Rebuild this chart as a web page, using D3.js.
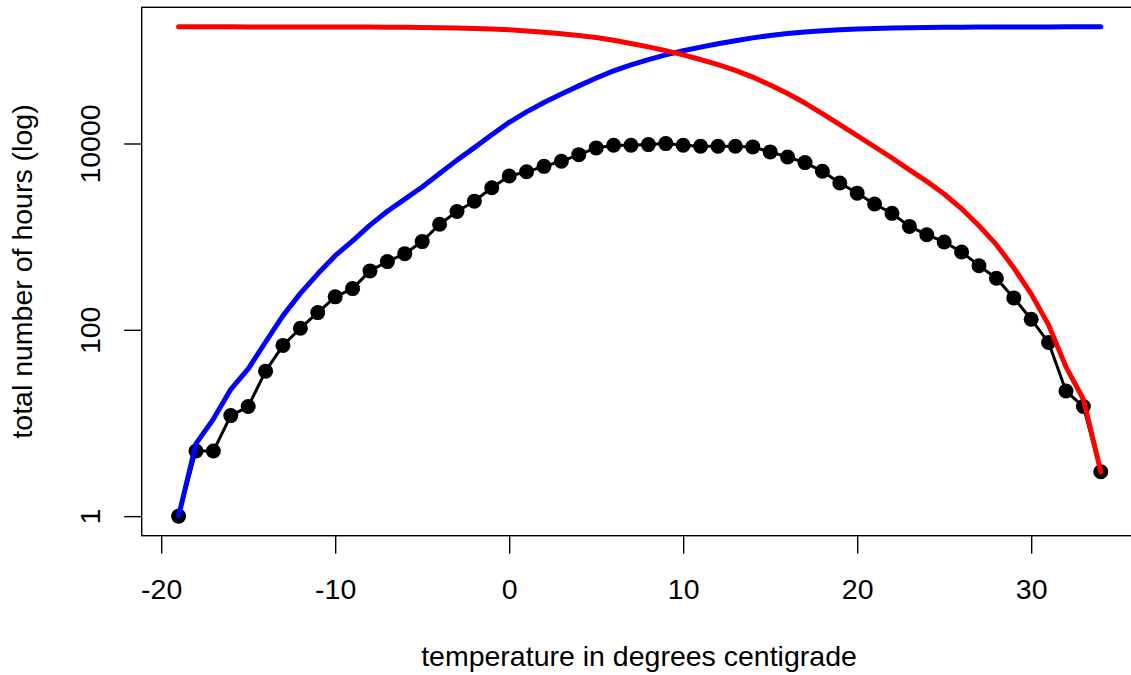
<!DOCTYPE html>
<html>
<head>
<meta charset="utf-8">
<script src="https://cdn.jsdelivr.net/npm/d3@7"></script>
<style>
  body { margin: 0; background: #fff; }
  svg text { font-family: "Liberation Sans", Arial, Helvetica, sans-serif; fill: #000; }
</style>
</head>
<body>
<svg width="1131" height="675"></svg>
<script>
// temperatures (degrees C), one point per degree
const temps = [-19,-18,-17,-16,-15,-14,-13,-12,-11,-10,-9,-8,-7,-6,-5,-4,-3,-2,-1,0,
  1,2,3,4,5,6,7,8,9,10,11,12,13,14,15,16,17,18,19,20,
  21,22,23,24,25,26,27,28,29,30,31,32,33,34];

// hours at each temperature (black dots)
const hours = [1,5,5,12,15,36,68,104,153,226,277,429,540,657,885,1357,1862,2404,3352,4485,
  4966,5685,6440,7590,8970,9570,9570,9730,9970,9570,9330,9330,9330,9190,8120,7170,6240,5030,3770,2930,
  2240,1780,1288,1050,877,684,488,358,220,130,73,22,15,3];

// hours at or below each temperature (blue)
const hoursBelow = [1,6,11,23,38,74,142,246,399,625,902,1331,1871,2528,3413,4770,6632,9036,12388,16873,
  21839,27524,33964,41554,50524,60094,69664,79394,89364,98934,108264,117594,126924,136114,144234,151404,157644,162674,166444,169374,
  171614,173394,174682,175732,176609,177293,177781,178139,178359,178489,178562,178584,178599,178602];

// hours at or above each temperature (red)
const hoursAbove = [178602,178601,178596,178591,178579,178564,178528,178460,178356,178203,177977,177700,177271,176731,176074,175189,173832,171970,169566,166214,
  161729,156763,151078,144638,137048,128078,118508,108938,99208,89238,79668,70338,61008,51678,42488,34368,27198,20958,15928,12158,
  9228,6988,5208,3920,2870,1993,1309,821,463,243,113,40,18,3];

const xTicks = [-20,-10,0,10,20,30];
const yTicks = [1,100,10000];

const svg = d3.select("svg");

const plot = {left: 141.7, top: 7.3, bottom: 535.7};

// R style 4% padding of data range
const xMin = d3.min(temps), xMax = d3.max(temps);
const xPad = (xMax - xMin) * 0.04;
const x = d3.scaleLinear()
    .domain([xMin - xPad, xMax + xPad])
    .range([plot.left, plot.left + 17.4 * (xMax - xMin + 2 * xPad)]);
plot.right = x.range()[1];

const lMax = Math.log10(d3.max(hoursAbove));
const lPad = lMax * 0.04;
const y = d3.scaleLog()
    .domain([Math.pow(10, -lPad), Math.pow(10, lMax + lPad)])
    .range([plot.bottom, plot.top]);

const fontSize = "28.5px";

// box
svg.append("rect")
    .attr("x", plot.left)
    .attr("y", plot.top)
    .attr("width", plot.right - plot.left)
    .attr("height", plot.bottom - plot.top)
    .attr("fill", "none")
    .attr("stroke", "#000")
    .attr("stroke-width", 1.4);

// x axis
const xAxis = svg.append("g")
    .attr("transform", `translate(0, ${plot.bottom})`)
    .call(d3.axisBottom(x).tickValues(xTicks).tickSize(18).tickPadding(28).tickFormat(d3.format("d")));
xAxis.select(".domain").remove();
xAxis.selectAll(".tick line").attr("stroke", "#000").attr("stroke-width", 1.4);
xAxis.selectAll(".tick text")
    .attr("font-size", fontSize)
    .attr("font-family", null)
    .attr("dy", null)
    .attr("y", 63)
    .text(d => String(d).replace("−", "-"));

// y axis, labels parallel to axis
const yAxis = svg.append("g")
    .attr("transform", `translate(${plot.left}, 0)`)
    .call(d3.axisLeft(y).tickValues(yTicks).tickSize(17.5).tickFormat(d3.format("d")));
yAxis.select(".domain").remove();
yAxis.selectAll(".tick line").attr("stroke", "#000").attr("stroke-width", 1.4);
yAxis.selectAll(".tick text")
    .attr("font-size", fontSize)
    .attr("font-family", null)
    .attr("x", null)
    .attr("dy", null)
    .attr("text-anchor", "middle")
    .attr("transform", `translate(${100 - plot.left}, 0) rotate(-90)`);

// axis titles
svg.append("text")
    .attr("x", 639)
    .attr("y", 666)
    .attr("font-size", fontSize)
    .attr("text-anchor", "middle")
    .text("temperature in degrees centigrade");

svg.append("text")
    .attr("transform", `translate(32, ${(plot.top + plot.bottom) / 2}) rotate(-90)`)
    .attr("font-size", fontSize)
    .attr("text-anchor", "middle")
    .text("total number of hours (log)");

const line = d3.line()
    .x(d => x(d[0]))
    .y(d => y(d[1]));

// hours per degree
svg.append("path")
    .attr("d", line(d3.zip(temps, hours)))
    .attr("fill", "none")
    .attr("stroke", "#000")
    .attr("stroke-width", 3)
    .attr("stroke-linejoin", "round");

svg.append("g")
    .selectAll("circle")
    .data(d3.zip(temps, hours))
    .join("circle")
    .attr("cx", d => x(d[0]))
    .attr("cy", d => y(d[1]))
    .attr("r", 7.5)
    .attr("fill", "#000");

// cumulative curves
svg.append("path")
    .attr("d", line(d3.zip(temps, hoursBelow)))
    .attr("fill", "none")
    .attr("stroke", "#0000ff")
    .attr("stroke-width", 5)
    .attr("stroke-linecap", "round")
    .attr("stroke-linejoin", "round");

svg.append("path")
    .attr("d", line(d3.zip(temps, hoursAbove)))
    .attr("fill", "none")
    .attr("stroke", "#ff0000")
    .attr("stroke-width", 5)
    .attr("stroke-linecap", "round")
    .attr("stroke-linejoin", "round");
</script>
</body>
</html>
